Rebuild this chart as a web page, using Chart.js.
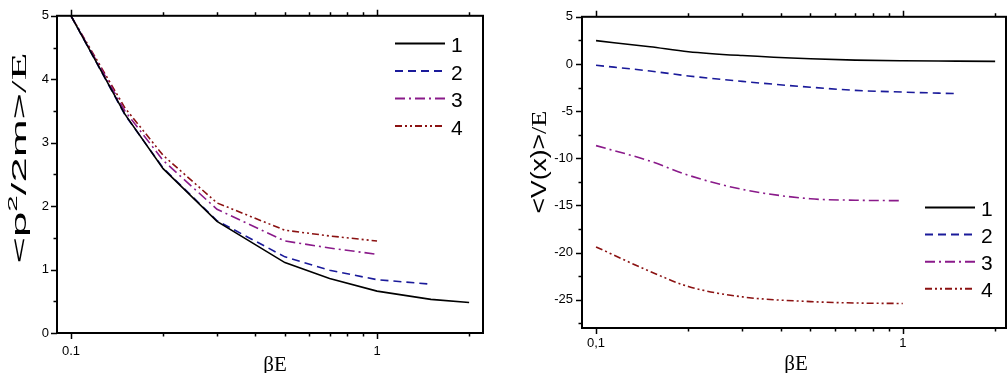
<!DOCTYPE html>
<html>
<head>
<meta charset="utf-8">
<script src="https://cdn.jsdelivr.net/npm/chart.js@4.4.0/dist/chart.umd.min.js"></script>
<style>
  html, body { margin: 0; padding: 0; background: #fff; }
  #wrap { position: relative; width: 1007px; height: 373px; overflow: hidden; }
  canvas { position: absolute; top: 0; }
</style>
</head>
<body>
<div id="wrap">
  <canvas id="kin" width="500" height="373" style="left:0"></canvas>
  <canvas id="pot" width="507" height="373" style="left:500px"></canvas>
</div>
<script>
// beta*E values shared by both panels
const betaE = [0.1, 0.15, 0.2, 0.3, 0.5, 0.7, 1, 1.5, 2];

// left panel: <p^2/2m>/E
const kin1 = [5, 3.45, 2.59, 1.76, 1.11, 0.86, 0.66, 0.53, 0.48];
const kin2 = [5, 3.44, 2.6, 1.77, 1.2, 0.99, 0.84, 0.77, null];
const kin3 = [5, 3.5, 2.72, 1.95, 1.45, 1.34, 1.24, null, null];
const kin4 = [5, 3.55, 2.8, 2.05, 1.62, 1.53, 1.45, null, null];

// right panel: <V(x)>/E
const pot1 = [2.47, 1.82, 1.3, 0.89, 0.55, 0.41, 0.34, 0.3, 0.27];
const pot2 = [-0.14, -0.75, -1.27, -1.85, -2.47, -2.8, -2.98, -3.15, null];
const pot3 = [-8.66, -10.3, -11.8, -13.3, -14.3, -14.45, -14.5, null, null];
const pot4 = [-19.4, -22.0, -23.6, -24.7, -25.2, -25.35, -25.4, null, null];

const seriesNames = ['1', '2', '3', '4'];
const seriesColors = ['#000000', '#1a1a9a', '#8a1a8a', '#8b1212'];
const seriesDash = [[], [8, 5], [10, 4, 2, 4], [7, 3, 2, 3, 2, 3]];

const xTicks = [0.1, 0.2, 0.3, 0.4, 0.5, 0.6, 0.7, 0.8, 0.9, 1, 2];
const kinYTicks = [0, 0.5, 1, 1.5, 2, 2.5, 3, 3.5, 4, 4.5, 5];
const potYTicks = [5, 2.5, 0, -2.5, -5, -7.5, -10, -12.5, -15, -17.5, -20, -22.5, -25, -27.5];

const SANS = '"Liberation Sans", Arial, sans-serif';
const SERIF = '"Liberation Serif", "Times New Roman", serif';

const toPoints = (ys) => betaE.map((x, i) => ({ x: x, y: ys[i] }));

const makeDatasets = (list, smooth) =>
  list.map((ys, i) => ({
    label: seriesNames[i],
    data: toPoints(ys),
    borderColor: seriesColors[i],
    backgroundColor: seriesColors[i],
    borderDash: seriesDash[i],
    borderWidth: 1.6,
    pointRadius: 0,
    spanGaps: false,
    cubicInterpolationMode: smooth ? 'monotone' : 'default',
  }));

// frame, tick marks, axis titles and legend
const decorations = {
  id: 'decorations',
  afterDraw(chart, args, o) {
    const { ctx, chartArea: a, scales } = chart;
    const x = scales.x;
    const y = scales.y;
    ctx.save();
    ctx.strokeStyle = '#000';
    ctx.lineWidth = 1.5;
    ctx.beginPath();
    x.ticks.forEach((t) => {
      const px = Math.round(x.getPixelForValue(t.value)) + 0.5;
      const len = t.label ? 6 : 3.5;
      ctx.moveTo(px, a.bottom);
      ctx.lineTo(px, a.bottom + len);
      ctx.moveTo(px, a.top);
      ctx.lineTo(px, a.top - len);
    });
    y.ticks.forEach((t) => {
      const py = Math.round(y.getPixelForValue(t.value)) + 0.5;
      const len = t.label ? 6 : 3.5;
      ctx.moveTo(a.left, py);
      ctx.lineTo(a.left - len, py);
    });
    ctx.stroke();

    ctx.lineWidth = 2;
    ctx.strokeRect(a.left, a.top, a.right - a.left, a.bottom - a.top);

    // x title
    ctx.fillStyle = '#000';
    ctx.font = '21px ' + SERIF;
    ctx.textAlign = 'center';
    ctx.textBaseline = 'alphabetic';
    ctx.fillText('\u03B2E', o.xTitle.x, o.xTitle.y);

    // y title, built from parts, stretched along its length
    const t = o.yTitle;
    const fs = t.size;
    const parts = t.parts.map((p) => {
      const size = p.sup ? fs * 0.65 : fs;
      const font = size + 'px ' + (p.serif ? SERIF : SANS);
      ctx.font = font;
      return { text: p.text, font: font, w: ctx.measureText(p.text).width, sup: p.sup };
    });
    const total = parts.reduce((s, p) => s + p.w, 0);
    ctx.translate(t.x, t.y);
    ctx.rotate(-Math.PI / 2);
    ctx.scale(t.len / total, 1);
    ctx.textAlign = 'left';
    let cx = -total / 2;
    parts.forEach((p) => {
      ctx.font = p.font;
      ctx.fillText(p.text, cx, fs * 0.36 - (p.sup ? fs * 0.42 : 0));
      cx += p.w;
    });
    ctx.setTransform(1, 0, 0, 1, 0, 0);

    // legend
    const L = o.legend;
    chart.data.datasets.forEach((ds, i) => {
      const ly = L.y + i * L.step;
      ctx.strokeStyle = ds.borderColor;
      ctx.lineWidth = 2;
      ctx.setLineDash(ds.borderDash);
      ctx.beginPath();
      ctx.moveTo(L.x0, ly);
      ctx.lineTo(L.x1, ly);
      ctx.stroke();
      ctx.setLineDash([]);
      ctx.fillStyle = '#000';
      ctx.font = '21px ' + SANS;
      ctx.textAlign = 'left';
      ctx.fillText(ds.label, L.x1 + 6, ly + 8.5);
    });
    ctx.restore();
  },
};

const makeOptions = (cfg) => ({
  responsive: false,
  animation: false,
  layout: { padding: { top: cfg.top, right: cfg.right, left: 0, bottom: 0 } },
  plugins: {
    legend: { display: false },
    tooltip: { enabled: false },
    decorations: cfg.deco,
  },
  scales: {
    x: {
      type: 'logarithmic',
      min: 0.09,
      max: cfg.xMax,
      grid: { display: false, drawTicks: false },
      border: { display: false },
      afterBuildTicks: (s) => {
        s.ticks = xTicks.map((v) => ({ value: v }));
      },
      afterFit: (s) => {
        s.height = cfg.bottom;
      },
      ticks: {
        autoSkip: false,
        maxRotation: 0,
        padding: cfg.xPad,
        color: '#000',
        font: { family: SANS, size: 13 },
        callback: (v) => (v === 0.1 ? cfg.firstLabel : v === 1 ? '1' : ''),
      },
    },
    y: {
      min: cfg.yMin,
      max: cfg.yMax,
      grid: { display: false, drawTicks: false },
      border: { display: false },
      afterBuildTicks: (s) => {
        s.ticks = cfg.yTicks.map((v) => ({ value: v }));
      },
      afterFit: (s) => {
        s.width = cfg.left;
      },
      ticks: {
        autoSkip: false,
        padding: cfg.yPad,
        color: '#000',
        font: { family: SANS, size: 13 },
        callback: (v) => (v % cfg.yMajor === 0 ? String(v) : ''),
      },
    },
  },
});

new Chart(document.getElementById('kin'), {
  type: 'line',
  data: { datasets: makeDatasets([kin1, kin2, kin3, kin4], false) },
  options: makeOptions({
    top: 12, right: 17, left: 57, bottom: 40,
    xMax: 2.22, xPad: 11, firstLabel: '0.1',
    yMin: 0, yMax: 5, yTicks: kinYTicks, yMajor: 1, yPad: 8,
    deco: {
      xTitle: { x: 275, y: 371 },
      yTitle: {
        x: 18, y: 158, len: 211, size: 21,
        parts: [
          { text: '<p' },
          { text: '2', sup: true },
          { text: '/2m>' },
          { text: '/E', serif: true },
        ],
      },
      legend: { x0: 395, x1: 445, y: 43.5, step: 27.5 },
    },
  }),
  plugins: [decorations],
});

new Chart(document.getElementById('pot'), {
  type: 'line',
  data: { datasets: makeDatasets([pot1, pot2, pot3, pot4], true) },
  options: makeOptions({
    top: 7, right: 1, left: 82, bottom: 45,
    xMax: 2.17, xPad: 8, firstLabel: '0,1',
    yMin: -28, yMax: 5, yTicks: potYTicks, yMajor: 5, yPad: 9,
    deco: {
      xTitle: { x: 296, y: 370 },
      yTitle: {
        x: 38, y: 162, len: 103, size: 22,
        parts: [
          { text: '<V(x)>' },
          { text: '/E', serif: true },
        ],
      },
      legend: { x0: 425, x1: 475, y: 207.5, step: 27.1 },
    },
  }),
  plugins: [decorations],
});
</script>
</body>
</html>
